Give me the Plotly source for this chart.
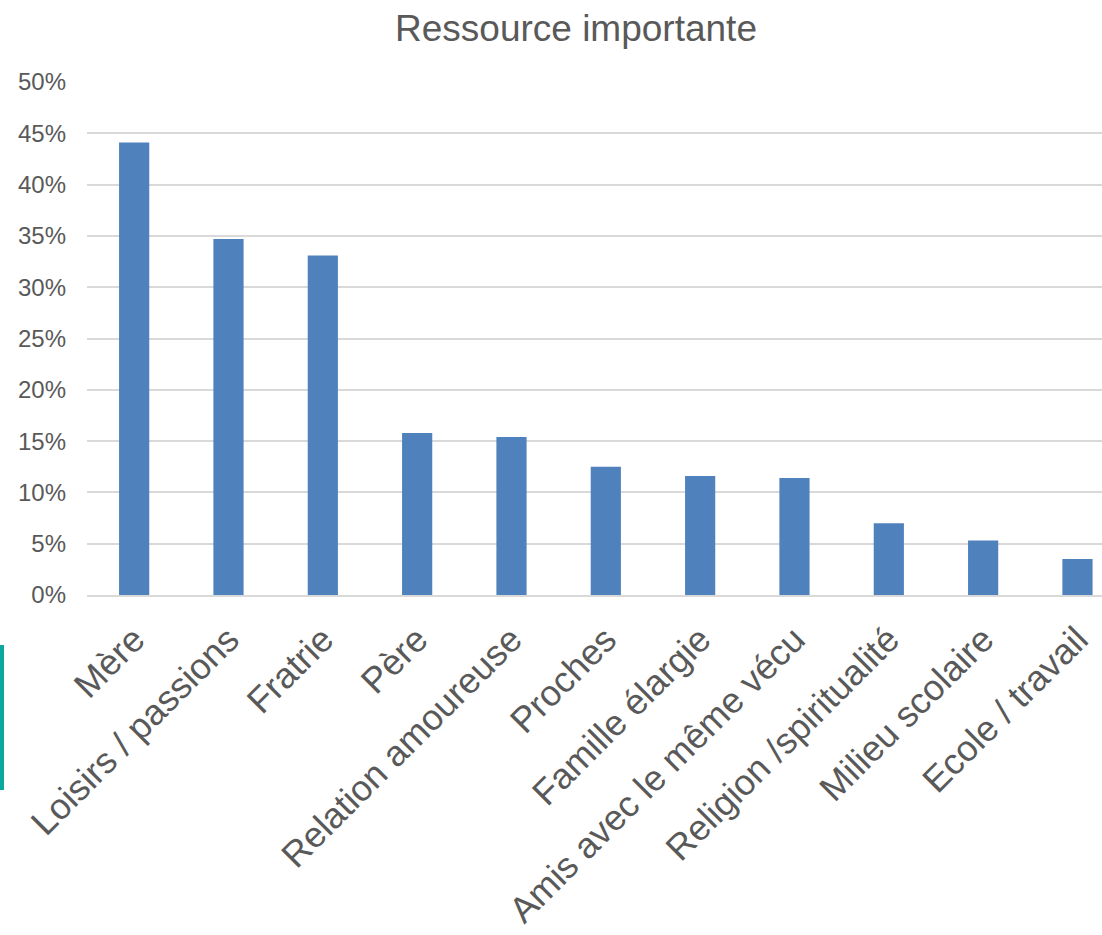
import plotly.graph_objects as go

categories = ["Mère", "Loisirs / passions", "Fratrie", "Père", "Relation amoureuse",
              "Proches", "Famille élargie", "Amis avec le même vécu",
              "Religion /spiritualité", "Milieu scolaire", "Ecole / travail"]
values = [0.441, 0.347, 0.331, 0.158, 0.154, 0.125, 0.116, 0.114, 0.070, 0.053, 0.035]
y_ticks = [0, 0.05, 0.10, 0.15, 0.20, 0.25, 0.30, 0.35, 0.40, 0.45, 0.50]
y_tick_labels = ["0%", "5%", "10%", "15%", "20%", "25%", "30%", "35%", "40%", "45%", "50%"]

W, H = 1102, 935
L, R, T, B = 87, 0, 82, 340

fig = go.Figure(go.Bar(x=categories, y=values, marker_color="#4F81BD",
                       marker_line_width=0, width=0.32))

pw = W - L - R
ph = H - T - B
def px(xp):
    return (xp - L) / pw
def py(yp):
    return (H - B - yp) / ph

fig.add_shape(type="rect", xref="paper", yref="paper",
              x0=px(-30), x1=px(2), y0=py(788), y1=py(647),
              line=dict(color="#0BA89D", width=4), fillcolor="rgba(0,0,0,0)")

fig.update_layout(
    width=W, height=H,
    margin=dict(l=L, r=R, t=T, b=B, autoexpand=False),
    paper_bgcolor="white", plot_bgcolor="white",
    font=dict(family="Liberation Sans, Arial, sans-serif", color="#595959"),
    title=dict(text="Ressource importante", x=576 / W, xref="container", xanchor="center",
               y=1 - 28 / H, yref="container", yanchor="middle",
               font=dict(size=37, color="#595959")),
    bargap=0.68,
    showlegend=False,
)
fig.update_xaxes(range=[-0.5, 10.26], tickangle=-45, tickfont=dict(size=36, color="#595959"),
                 showgrid=False, showline=True, linecolor="#D9D9D9", linewidth=2,
                 ticks="", ticklabelstandoff=7, automargin=False)
fig.update_yaxes(range=[0, 0.5], tickvals=y_ticks, ticktext=y_tick_labels,
                 tickfont=dict(size=24, color="#595959"),
                 showgrid=True, gridcolor="#D9D9D9", gridwidth=2,
                 zeroline=False, ticks="", ticklabelstandoff=20, automargin=False)

fig.write_html("out.html", config={"displayModeBar": False},
               post_script="document.body.style.margin='0';document.body.style.overflow='hidden';")
